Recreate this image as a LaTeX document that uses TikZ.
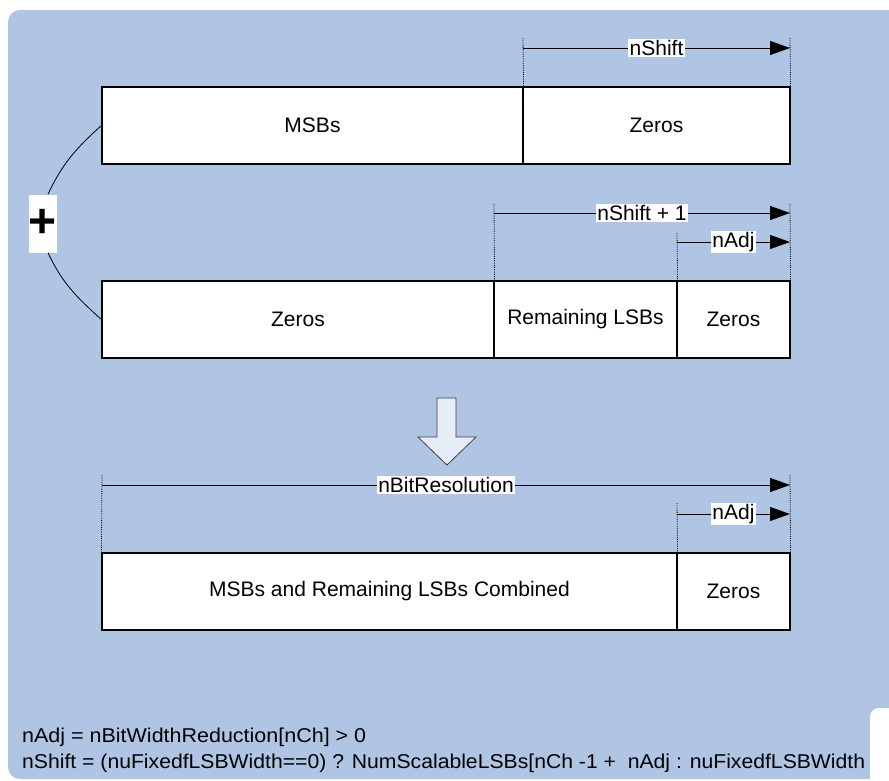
\documentclass[tikz,border=0pt]{standalone}
\usepackage{fontspec}
\setmainfont{Liberation Sans}
\usetikzlibrary{arrows.meta}

\definecolor{bgblue}{RGB}{176,197,228}
\definecolor{arrfill}{RGB}{230,237,247}

\tikzset{
  field/.style={draw=black,line width=1.2pt,fill=white,minimum height=77pt,inner sep=0pt,font=\fontsize{21}{24}\selectfont},
  dim/.style={line width=1pt,-{Triangle[length=20pt,width=14pt]}},
  dimlbl/.style={fill=white,inner sep=1.5pt,font=\fontsize{21}{24}\selectfont},
  guide/.style={densely dotted,line width=0.8pt}
}

\begin{document}
\begin{tikzpicture}[x=1pt,y=1pt]
      \useasboundingbox (0,0) rectangle (889,-780);
      \fill[bgblue,rounded corners=12pt] (8,-10) rectangle (905,-779);
      \fill[white,rounded corners=9pt] (870,-708) rectangle (905,-795);

      % first row
      \node[field,minimum width=421pt] (m) at (312.5,-125.5) {MSBs};
      \node[field,minimum width=267pt] (z1) at (656.5,-125.5) {Zeros};

      % second row
      \node[field,minimum width=392pt] (r) at (298,-319.5) {Zeros};
      \node[field,minimum width=183pt] (s) at (585.5,-319.5) {Remaining LSBs};
      \node[field,minimum width=113pt] (z2) at (733.5,-319.5) {Zeros};

      % result row
      \node[field,minimum width=575pt] (c) at (389.5,-591.5) {MSBs and Remaining LSBs Combined};
      \node[field,minimum width=113pt] (z3) at (733.5,-591.5) {Zeros};

      % plus
      \node[fill=white,minimum width=28pt,minimum height=58pt,inner sep=0pt,font=\bfseries\fontsize{48}{48}\selectfont] (p) at (43,-223.5) {+};
      \draw[line width=0.8pt] ([xshift=5pt]p.north) to[out=65,in=-138] (m.west);
      \draw[line width=0.8pt] ([xshift=5pt]p.south) to[out=-65,in=138] (r.west);

      % guides
      \coordinate (g1) at (523,-38);
      \coordinate (g2) at (790,-38);
      \coordinate (g3) at (494,-204);
      \coordinate (g4) at (790,-204);
      \coordinate (g5) at (677,-233);
      \coordinate (g6) at (102,-475);
      \coordinate (g7) at (790,-475);
      \coordinate (g8) at (677,-503);
      \draw[guide] (g1) -- (m.north east);
      \draw[guide] (g2) -- (z1.north east);
      \draw[guide] (g3) -- (r.north east);
      \draw[guide] (g4) -- (z2.north east);
      \draw[guide] (g5) -- (s.north east);
      \draw[guide] (g6) -- (c.north west);
      \draw[guide] (g7) -- (z3.north east);
      \draw[guide] (g8) -- (c.north east);

      % widths
      \coordinate (a1) at (523,-48);
      \coordinate (b1) at (790,-48);
      \coordinate (a2) at (494,-213);
      \coordinate (b2) at (790,-213);
      \coordinate (a3) at (677,-242);
      \coordinate (b3) at (790,-242);
      \coordinate (a4) at (102,-485);
      \coordinate (b4) at (790,-485);
      \coordinate (a5) at (677,-514);
      \coordinate (b5) at (790,-514);
      \draw[dim] (a1) -- (b1) node[dimlbl,midway] (l1) {nShift};
      \draw[dim] (a2) -- (b2) node[dimlbl,midway] (l2) {nShift + 1};
      \draw[dim] (a3) -- (b3) node[dimlbl,midway] (l3) {nAdj};
      \draw[dim] (a4) -- (b4) node[dimlbl,midway] (l4) {nBitResolution};
      \draw[dim] (a5) -- (b5) node[dimlbl,midway] (l5) {nAdj};

      % down arrow
      \draw[fill=arrfill,draw=black!75,line width=0.8pt,line join=miter] (437,-398) -- (456,-398) -- (456,-437) -- (476,-437)
        -- (447,-465) -- (418,-437) -- (437,-437) -- cycle;

      % notes
      \node[anchor=base west,inner sep=0pt,font=\fontsize{20}{22}\selectfont] (n1) at (22,-742)
        {\resizebox{344pt}{\height}{nAdj = nBitWidthReduction[nCh] > 0}};
      \node[anchor=base west,inner sep=0pt,font=\fontsize{20}{22}\selectfont] (n2) at (22,-768)
        {\resizebox{843pt}{\height}{nShift = (nuFixedfLSBWidth==0) ? NumScalableLSBs[nCh -1 +\ \ nAdj : nuFixedfLSBWidth}};
\end{tikzpicture}
\end{document}
